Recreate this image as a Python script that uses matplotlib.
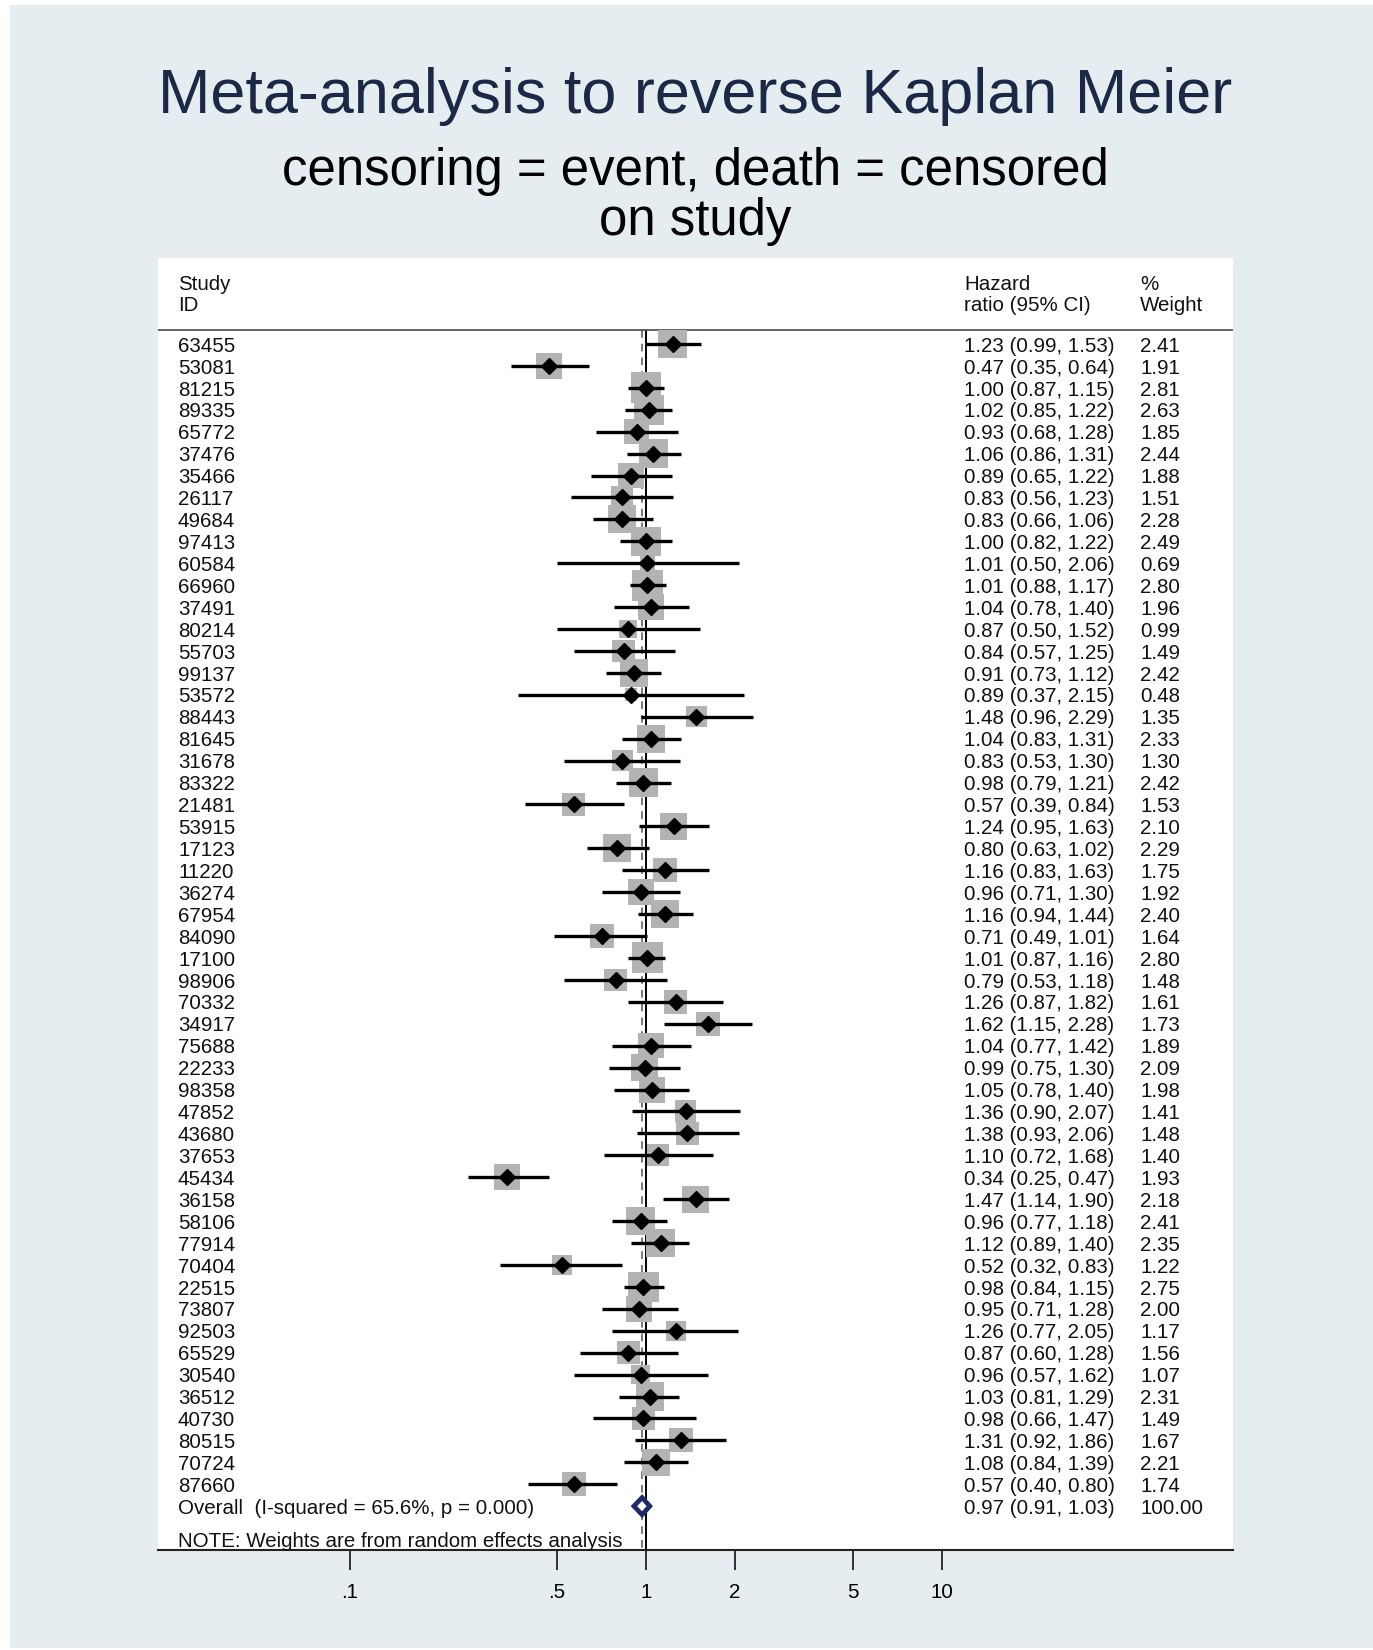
import numpy as np
import matplotlib
matplotlib.use('Agg')
import matplotlib.pyplot as plt
import matplotlib.transforms as mtransforms
from matplotlib.patches import Polygon, Rectangle
from matplotlib.ticker import FixedLocator, FixedFormatter, NullLocator

# Study level results, in the order they appear on the forest plot
study_ids = ['63455', '53081', '81215', '89335', '65772', '37476', '35466', '26117', '49684', '97413',
	'60584', '66960', '37491', '80214', '55703', '99137', '53572', '88443', '81645', '31678',
	'83322', '21481', '53915', '17123', '11220', '36274', '67954', '84090', '17100', '98906',
	'70332', '34917', '75688', '22233', '98358', '47852', '43680', '37653', '45434', '36158',
	'58106', '77914', '70404', '22515', '73807', '92503', '65529', '30540', '36512', '40730',
	'80515', '70724', '87660']
hazard_ratio = [1.23, 0.47, 1.00, 1.02, 0.93, 1.06, 0.89, 0.83, 0.83, 1.00,
	1.01, 1.01, 1.04, 0.87, 0.84, 0.91, 0.89, 1.48, 1.04, 0.83,
	0.98, 0.57, 1.24, 0.80, 1.16, 0.96, 1.16, 0.71, 1.01, 0.79,
	1.26, 1.62, 1.04, 0.99, 1.05, 1.36, 1.38, 1.10, 0.34, 1.47,
	0.96, 1.12, 0.52, 0.98, 0.95, 1.26, 0.87, 0.96, 1.03, 0.98,
	1.31, 1.08, 0.57]
ci_lower = [0.99, 0.35, 0.87, 0.85, 0.68, 0.86, 0.65, 0.56, 0.66, 0.82,
	0.50, 0.88, 0.78, 0.50, 0.57, 0.73, 0.37, 0.96, 0.83, 0.53,
	0.79, 0.39, 0.95, 0.63, 0.83, 0.71, 0.94, 0.49, 0.87, 0.53,
	0.87, 1.15, 0.77, 0.75, 0.78, 0.90, 0.93, 0.72, 0.25, 1.14,
	0.77, 0.89, 0.32, 0.84, 0.71, 0.77, 0.60, 0.57, 0.81, 0.66,
	0.92, 0.84, 0.40]
ci_upper = [1.53, 0.64, 1.15, 1.22, 1.28, 1.31, 1.22, 1.23, 1.06, 1.22,
	2.06, 1.17, 1.40, 1.52, 1.25, 1.12, 2.15, 2.29, 1.31, 1.30,
	1.21, 0.84, 1.63, 1.02, 1.63, 1.30, 1.44, 1.01, 1.16, 1.18,
	1.82, 2.28, 1.42, 1.30, 1.40, 2.07, 2.06, 1.68, 0.47, 1.90,
	1.18, 1.40, 0.83, 1.15, 1.28, 2.05, 1.28, 1.62, 1.29, 1.47,
	1.86, 1.39, 0.80]
weight_pct = [2.41, 1.91, 2.81, 2.63, 1.85, 2.44, 1.88, 1.51, 2.28, 2.49,
	0.69, 2.80, 1.96, 0.99, 1.49, 2.42, 0.48, 1.35, 2.33, 1.30,
	2.42, 1.53, 2.10, 2.29, 1.75, 1.92, 2.40, 1.64, 2.80, 1.48,
	1.61, 1.73, 1.89, 2.09, 1.98, 1.41, 1.48, 1.40, 1.93, 2.18,
	2.41, 2.35, 1.22, 2.75, 2.00, 1.17, 1.56, 1.07, 2.31, 1.49,
	1.67, 2.21, 1.74]

# Pooled (random effects) result
overall_hr = 0.97
overall_lower = 0.91
overall_upper = 1.03
overall_weight = 100.00
overall_label = 'Overall  (I-squared = 65.6%, p = 0.000)'
note_text = 'NOTE: Weights are from random effects analysis'

tick_values = [0.1, 0.5, 1, 2, 5, 10]
tick_labels = ['.1', '.5', '1', '2', '5', '10']

title = 'Meta-analysis to reverse Kaplan Meier'
subtitle_lines = ['censoring = event, death = censored', 'on study']

# Canvas in pixels
W, H = 1373, 1650
FONT = ['Liberation Sans', 'DejaVu Sans']
BG = '#e5edf0'
TITLE_COLOR = '#1b2846'
BOX_COLOR = '#b3b3b3'
DIAMOND_COLOR = '#1f2a66'


def px_x(x):
	return x / W


def px_y(y):
	# pixel row measured from the top -> figure fraction
	return 1 - y / H


def create_forest_plot(out_file='out.png'):
	fig = plt.figure(figsize=(W / 100, H / 100), dpi=100, facecolor='white')

	# light blue-grey graph region with a thin white rim at top and left
	fig.patches.append(Rectangle((px_x(10), px_y(H - 2)), 1 - px_x(10), (H - 7) / H,
		transform=fig.transFigure, facecolor=BG, edgecolor='none', zorder=-10))

	# Titles
	fig.text(px_x(695), px_y(113), title, ha='center', va='baseline',
		fontsize=45.4, color=TITLE_COLOR, family=FONT)
	fig.text(px_x(695), px_y(185), subtitle_lines[0], ha='center', va='baseline',
		fontsize=36.7, color='black', family=FONT)
	fig.text(px_x(695), px_y(235), subtitle_lines[1], ha='center', va='baseline',
		fontsize=36.7, color='black', family=FONT)

	# Plot region
	ax = fig.add_axes([px_x(158), px_y(1550), px_x(1233 - 158), (1550 - 258) / H])
	ax.set_zorder(1)
	ax.set_facecolor('white')
	ax.set_xscale('log')
	one_px, decade_px = 646, 296
	ax.set_xlim(10 ** ((158 - one_px) / decade_px), 10 ** ((1233 - one_px) / decade_px))

	n = len(study_ids)
	rows = np.arange(n)
	overall_row = n
	note_row = n + 1.5
	ax.set_ylim(n + 2.0, -3.92)

	# reference lines: null effect (solid) and pooled estimate (dashed)
	header_row = -0.64
	ax.vlines(1, header_row, n + 2.0, color='black', lw=1.4, zorder=1)
	ax.vlines(overall_hr, header_row, n + 2.0, color='#555555', lw=1.1,
		linestyles=(0, (5, 4)), zorder=1)
	ax.axhline(header_row, color='#555555', lw=1.3, zorder=1)

	# weight boxes, confidence intervals and point estimates
	w = np.array(weight_pct)
	ax.scatter(hazard_ratio, rows, s=177 * w, marker='s', color=BOX_COLOR, linewidths=0, zorder=2)
	ax.hlines(rows, ci_lower, ci_upper, color='black', lw=2.4, zorder=3)
	ax.plot(hazard_ratio, rows, 'D', color='black', ms=8, zorder=4)

	# pooled estimate diamond
	diamond = Polygon([(overall_lower, overall_row), (overall_hr, overall_row - 0.39),
		(overall_upper, overall_row), (overall_hr, overall_row + 0.39)],
		closed=True, facecolor='white', edgecolor=DIAMOND_COLOR, lw=3.4, zorder=5)
	ax.add_patch(diamond)

	# text columns
	trans = mtransforms.blended_transform_factory(ax.transAxes, ax.transData)
	col_id, col_hr, col_wt = (178 - 158) / 1075, (964 - 158) / 1075, (1140 - 158) / 1075
	fs = 14.8
	dy = 0.1
	txt = dict(transform=trans, ha='left', va='center', fontsize=fs, color='#111111', family=FONT)

	ax.text(col_id, -2.83 + dy, 'Study', **txt)
	ax.text(col_id, -1.87 + dy, 'ID', **txt)
	ax.text(col_hr, -2.83 + dy, 'Hazard', **txt)
	ax.text(col_hr, -1.87 + dy, 'ratio (95% CI)', **txt)
	ax.text(col_wt, -2.83 + dy, '%', **txt)
	ax.text(col_wt, -1.87 + dy, 'Weight', **txt)

	for i in range(n):
		ax.text(col_id, i + dy, study_ids[i], **txt)
		ax.text(col_hr, i + dy, f'{hazard_ratio[i]:.2f} ({ci_lower[i]:.2f}, {ci_upper[i]:.2f})', **txt)
		ax.text(col_wt, i + dy, f'{weight_pct[i]:.2f}', **txt)

	ax.text(col_id, overall_row + dy, overall_label, **txt)
	ax.text(col_hr, overall_row + dy, f'{overall_hr:.2f} ({overall_lower:.2f}, {overall_upper:.2f})', **txt)
	ax.text(col_wt, overall_row + dy, f'{overall_weight:.2f}', **txt)
	ax.text(col_id, note_row + dy, note_text, **txt)

	# axes styling: only the bottom log axis is shown
	for side in ['top', 'left', 'right']:
		ax.spines[side].set_visible(False)
	ax.spines['bottom'].set_linewidth(1.5)
	ax.spines['bottom'].set_color('#222222')
	ax.xaxis.set_major_locator(FixedLocator(tick_values))
	ax.xaxis.set_major_formatter(FixedFormatter(tick_labels))
	ax.xaxis.set_minor_locator(NullLocator())
	ax.tick_params(axis='x', direction='out', length=14.4, width=1.3, color='#222222',
		labelsize=fs, pad=9)
	for lab in ax.get_xticklabels():
		lab.set_family(FONT)
	ax.set_yticks([])

	fig.savefig(out_file, dpi=100, facecolor=fig.get_facecolor())


if __name__ == "__main__":
	create_forest_plot('out.png')
